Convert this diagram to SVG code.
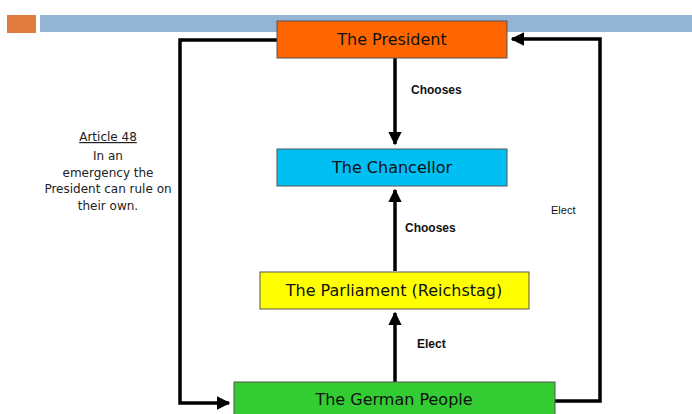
<svg xmlns="http://www.w3.org/2000/svg" width="692" height="414" viewBox="0 0 692 414">
<defs>
<style>
.box{stroke:#555;stroke-width:1}
.lbl{font-family:"DejaVu Sans",Arial,sans-serif;font-size:16px;fill:#111;text-anchor:middle}
.edge{font-family:"Liberation Sans",Arial,sans-serif;font-size:12px;font-weight:bold;fill:#111}
.note{font-family:"DejaVu Sans",Arial,sans-serif;font-size:12px;fill:#222;text-anchor:middle}
.ln{fill:none;stroke:#000;stroke-width:3.5}
</style>
<marker id="ah" viewBox="0 0 10 10" refX="9" refY="5" markerWidth="3.8" markerHeight="3.8" orient="auto" markerUnits="strokeWidth">
<path d="M0,0 L10,5 L0,10 z" fill="#000"/>
</marker>
</defs>
<rect width="692" height="414" fill="#fff"/>
<rect x="7" y="15" width="29" height="18" fill="#E07B3F"/>
<rect x="40" y="15" width="652" height="17" fill="#94B5D4"/>
<g id="connectors">
<path class="ln" d="M277,40 H180 V403 H229" marker-end="url(#ah)"/>
<path class="ln" d="M555,401 H600 V39 H512" marker-end="url(#ah)"/>
<path class="ln" d="M395,58 V144" marker-end="url(#ah)"/>
<path class="ln" d="M395,271 V190" marker-end="url(#ah)"/>
<path class="ln" d="M395,382 V313" marker-end="url(#ah)"/>
<text class="edge" x="411" y="94">Chooses</text>
<text class="edge" x="405" y="232">Chooses</text>
<text class="edge" x="417" y="348">Elect</text>
<text class="edge" x="551" y="214" style="font-weight:normal;font-size:11px">Elect</text>
</g>
<g id="president">
<rect class="box" x="277" y="21" width="230" height="37" fill="#FF6600"/>
<text class="lbl" x="392" y="45">The President</text>
</g>
<g id="chancellor">
<rect class="box" x="277" y="149" width="230" height="37" fill="#00BFF3"/>
<text class="lbl" x="392" y="173">The Chancellor</text>
</g>
<g id="parliament">
<rect class="box" x="260" y="272" width="269" height="37" fill="#FFFF00"/>
<text class="lbl" x="394" y="296">The Parliament (Reichstag)</text>
</g>
<g id="people">
<rect class="box" x="234" y="382" width="321" height="40" fill="#33CC33"/>
<text class="lbl" x="394" y="405">The German People</text>
</g>
<g id="article48">
<text class="note" x="108" y="141" text-decoration="underline">Article 48</text>
<text class="note" x="108" y="160">In an</text>
<text class="note" x="108" y="177">emergency the</text>
<text class="note" x="108" y="193">President can rule on</text>
<text class="note" x="108" y="210">their own.</text>
</g>
</svg>
